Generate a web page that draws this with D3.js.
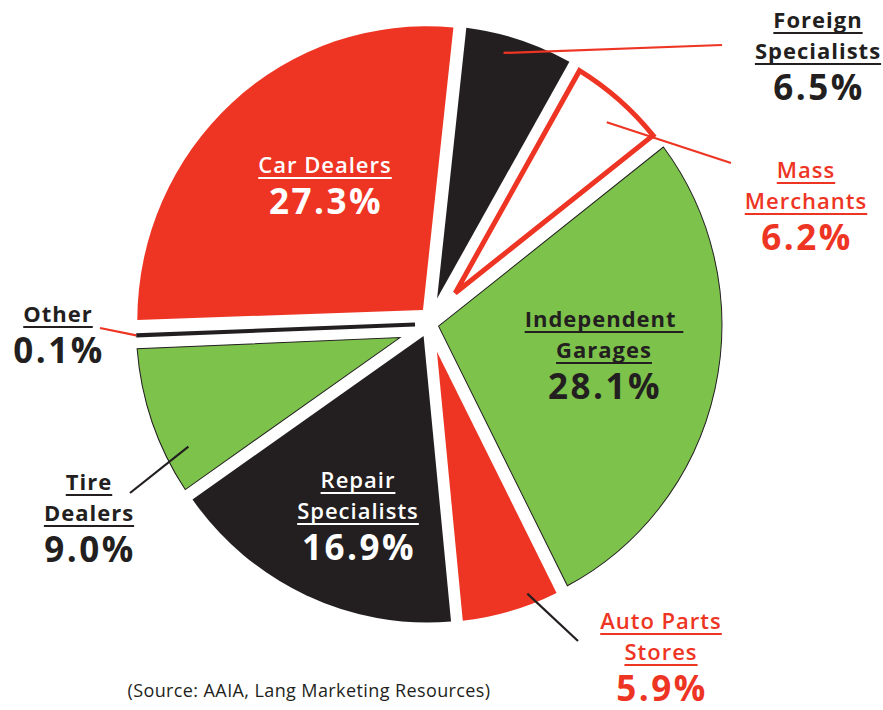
<!DOCTYPE html>
<html>
<head>
<meta charset="utf-8">
<script src="https://cdn.jsdelivr.net/npm/d3@7"></script>
<style>
  body { margin: 0; background: #fff; }
  text { font-family: "Open Sans", sans-serif; }
</style>
</head>
<body>
<svg id="chart" width="883" height="710"></svg>
<script>
// share of service outlets, clockwise from the right-hand side
var categories = ["Independent Garages", "Auto Parts Stores", "Repair Specialists", "Tire Dealers",
                  "Other", "Car Dealers", "Foreign Specialists", "Mass Merchants"];
var shares = [28.1, 5.9, 16.9, 9.0, 0.1, 27.3, 6.5, 6.2];
var nameLines = [["Independent ", "Garages"], ["Auto Parts", "Stores"], ["Repair", "Specialists"],
                 ["Tire", "Dealers"], ["Other"], ["Car Dealers"], ["Foreign", "Specialists"], ["Mass", "Merchants"]];
var sourceNote = "(Source: AAIA, Lang Marketing Resources)";

var RED = "#EE3524", DARK = "#231F20", GREEN = "#7DC24B";

// look of each slice and label
var sliceStyle = {
  "Independent Garages": { fill: GREEN, stroke: DARK, sw: 1, text: DARK },
  "Auto Parts Stores":   { fill: RED, stroke: "none", sw: 0, text: RED },
  "Repair Specialists":  { fill: DARK, stroke: "none", sw: 0, text: "#fff" },
  "Tire Dealers":        { fill: GREEN, stroke: DARK, sw: 1, text: DARK },
  "Other":               { fill: DARK, stroke: DARK, sw: 4, text: DARK },
  "Car Dealers":         { fill: RED, stroke: "none", sw: 0, text: "#fff" },
  "Foreign Specialists": { fill: DARK, stroke: "none", sw: 0, text: DARK },
  "Mass Merchants":      { fill: "#fff", stroke: RED, sw: 5, text: RED }
};

// label placement (centre x, first baseline y) and leader lines
var labelPos = {
  "Independent Garages": [604, 327],
  "Auto Parts Stores":   [661, 629],
  "Repair Specialists":  [358, 488],
  "Tire Dealers":        [89, 490],
  "Other":               [58, 322],
  "Car Dealers":         [325, 173],
  "Foreign Specialists": [818, 28],
  "Mass Merchants":      [806, 178]
};
var leaders = {
  "Foreign Specialists": { t: 0.4, r: 272, to: [722, 45], color: RED },
  "Mass Merchants":      { t: 0.55, r: 262, to: [731, 163], color: RED },
  "Other":               { t: 0.5, r: 289, to: [100, 328], color: RED },
  "Tire Dealers":        { t: 0.25, r: 265, to: [130, 493], color: DARK },
  "Auto Parts Stores":   { t: 0.3, r: 278, to: [578, 641], color: DARK }
};

var cx = 429, cy = 324, R = 289, sy = 1.02;
var gap = 4.5, wideGap = 11, explode = 4;

var svg = d3.select("#chart");
var data = categories.map(function (c, i) { return { name: c, value: shares[i], lines: nameLines[i] }; });

var pie = d3.pie()
  .sort(null)
  .value(function (d) { return d.value; })
  .startAngle(52 * Math.PI / 180)
  .endAngle(52 * Math.PI / 180 + 2 * Math.PI);

var arcs = pie(data);
var tiny = function (a) { return a.endAngle - a.startAngle < 0.02; };

function cross(a, b) { return a[0] * b[1] - a[1] * b[0]; }

// wedge whose straight edges are shifted inwards by h0 / h1
function slicePath(d, h0, h1, r) {
  var a0 = d.startAngle, a1 = d.endAngle;
  var u0 = [Math.sin(a0), -Math.cos(a0)], n0 = [Math.cos(a0), Math.sin(a0)];
  var u1 = [Math.sin(a1), -Math.cos(a1)], n1 = [Math.cos(a1), Math.sin(a1)];
  var p0 = [h0 * n0[0], h0 * n0[1]], p1 = [-h1 * n1[0], -h1 * n1[1]];
  var w = [p1[0] - p0[0], p1[1] - p0[1]];
  var t = cross(w, u1) / cross(u0, u1);
  var apex = [p0[0] + t * u0[0], p0[1] + t * u0[1]];
  var l0 = Math.sqrt(r * r - h0 * h0), l1 = Math.sqrt(r * r - h1 * h1);
  var o0 = [p0[0] + l0 * u0[0], p0[1] + l0 * u0[1]];
  var o1 = [p1[0] + l1 * u1[0], p1[1] + l1 * u1[1]];
  var p = d3.path();
  p.moveTo(apex[0], apex[1]);
  p.lineTo(o0[0], o0[1]);
  p.arc(0, 0, r, Math.atan2(o0[1], o0[0]), Math.atan2(o1[1], o1[0]), false);
  p.closePath();
  return p.toString();
}

function offsetOf(d) {
  var m = (d.startAngle + d.endAngle) / 2;
  return [explode * Math.sin(m), -explode * Math.cos(m)];
}

var g = svg.append("g").attr("transform", "translate(" + cx + "," + cy + ") scale(1," + sy + ")");

arcs.forEach(function (d, i) {
  var st = sliceStyle[d.data.name];
  var off = offsetOf(d);
  var prev = arcs[(i + arcs.length - 1) % arcs.length], next = arcs[(i + 1) % arcs.length];
  var sg = g.append("g").attr("transform", "translate(" + off[0] + "," + off[1] + ")");
  if (tiny(d)) {
    var m = (d.startAngle + d.endAngle) / 2;
    sg.append("line")
      .attr("x1", 10 * Math.sin(m)).attr("y1", -10 * Math.cos(m))
      .attr("x2", R * Math.sin(m)).attr("y2", -R * Math.cos(m))
      .attr("stroke", st.fill).attr("stroke-width", st.sw);
  } else {
    var inset = st.fill === "#fff" ? st.sw / 2 : 0;
    var h0 = (tiny(prev) ? wideGap : gap) + inset, h1 = (tiny(next) ? wideGap : gap) + inset;
    sg.append("path")
      .attr("d", slicePath(d, h0, h1, R - inset))
      .attr("fill", st.fill)
      .attr("stroke", st.stroke)
      .attr("stroke-width", st.sw)
      .attr("stroke-linejoin", "miter");
  }
});

// leader lines
arcs.forEach(function (d) {
  var l = leaders[d.data.name];
  if (!l) return;
  var off = offsetOf(d);
  var a = d.startAngle + l.t * (d.endAngle - d.startAngle);
  svg.append("line")
    .attr("x1", cx + off[0] + l.r * Math.sin(a))
    .attr("y1", cy + sy * (off[1] - l.r * Math.cos(a)))
    .attr("x2", l.to[0]).attr("y2", l.to[1])
    .attr("stroke", l.color).attr("stroke-width", 2.2);
});

// labels
function underlined(x, y, str, color, size, weight, spacing) {
  var t = svg.append("text")
    .attr("x", x).attr("y", y)
    .attr("text-anchor", "middle")
    .style("white-space", "pre")
    .style("letter-spacing", spacing + "px")
    .attr("font-size", size).attr("font-weight", weight)
    .attr("fill", color)
    .text(str);
  var w = t.node().getComputedTextLength();
  svg.append("rect")
    .attr("x", x - w / 2).attr("y", y + 4)
    .attr("width", w).attr("height", 2)
    .attr("fill", color);
}

arcs.forEach(function (d) {
  var st = sliceStyle[d.data.name];
  var pos = labelPos[d.data.name];
  var y = pos[1];
  var weight = st.text === DARK ? 700 : 600;
  d.data.lines.forEach(function (line, k) {
    underlined(pos[0], y, line, st.text, 22, weight, 1);
    if (k < d.data.lines.length - 1) y += 31;
  });
  svg.append("text")
    .attr("x", pos[0] + 1).attr("y", y + 41)
    .attr("text-anchor", "middle")
    .style("letter-spacing", "2.5px")
    .attr("font-size", 35).attr("font-weight", 700)
    .attr("fill", st.text)
    .text(d3.format(".1f")(d.data.value) + "%");
});

svg.append("text")
  .attr("x", 309).attr("y", 697)
  .attr("text-anchor", "middle")
  .style("letter-spacing", "0.4px")
  .attr("font-size", 18)
  .attr("fill", DARK)
  .text(sourceNote);
</script>
</body>
</html>
